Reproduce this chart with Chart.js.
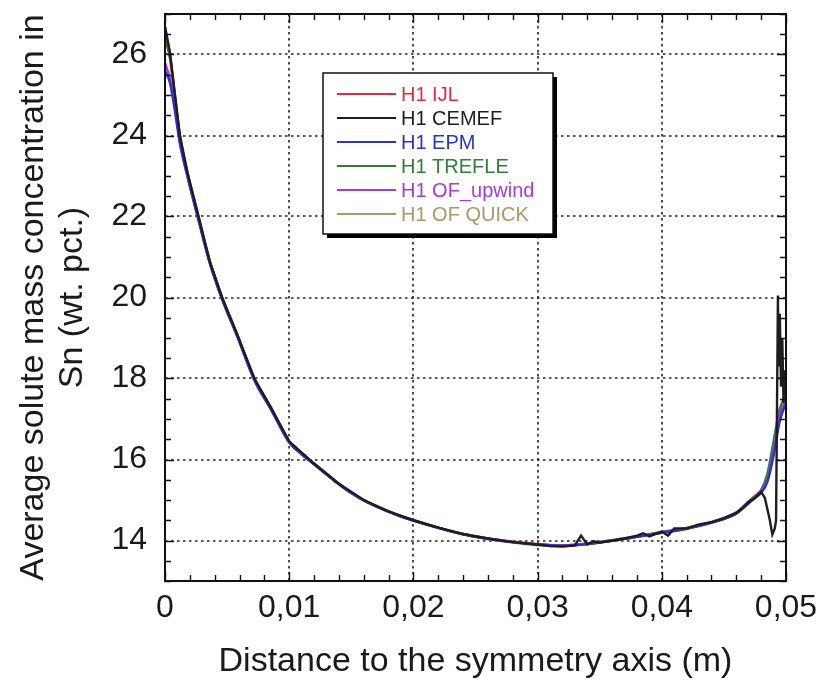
<!DOCTYPE html>
<html>
<head>
<meta charset="utf-8">
<script src="https://cdn.jsdelivr.net/npm/chart.js@4.4.1/dist/chart.umd.min.js"></script>
<style>
  html, body { margin: 0; padding: 0; background: #fff; }
  canvas { display: block; }
</style>
</head>
<body>
<canvas id="c" width="825" height="684"></canvas>
<script>
// ---------------- DATA ----------------
const seriesNames = ['H1 IJL', 'H1 CEMEF', 'H1 EPM', 'H1 TREFLE', 'H1 OF_upwind', 'H1 OF QUICK'];

const xCommon = [0, 0.0004, 0.0008, 0.0012, 0.0018, 0.0027, 0.0036, 0.0046, 0.0058, 0.0072, 0.0085,
  0.010, 0.011, 0.012, 0.013, 0.014, 0.015, 0.016, 0.017, 0.018, 0.019, 0.020, 0.022, 0.024, 0.026,
  0.028, 0.030, 0.032, 0.034, 0.036, 0.038, 0.040, 0.042, 0.044, 0.046, 0.047, 0.0475, 0.048, 0.0485,
  0.049, 0.0495, 0.050];

const yIJL = [26.6, 26.0, 25.0, 24.0, 23.1, 22.0, 20.9, 20.0, 19.1, 18.0, 17.3,
  16.45, 16.15, 15.9, 15.65, 15.4, 15.18, 15.0, 14.85, 14.72, 14.6, 14.5, 14.32, 14.16, 14.05,
  13.97, 13.91, 13.88, 13.92, 14.0, 14.1, 14.2, 14.3, 14.45, 14.68, 14.95, 15.08, 15.2, 15.5,
  16.15, 17.05, 17.5];

const yEPM = [25.6, 25.3, 24.6, 23.8, 23.0, 21.9, 20.85, 19.95, 19.05, 17.95, 17.25,
  16.42, 16.13, 15.88, 15.63, 15.39, 15.17, 14.99, 14.84, 14.71, 14.59, 14.49, 14.31, 14.15, 14.04,
  13.96, 13.9, 13.87, 13.91, 13.99, 14.09, 14.19, 14.29, 14.44, 14.66, 14.92, 15.05, 15.18, 15.45,
  16.1, 16.95, 17.4];

const yTREFLE = [26.4, 25.9, 24.9, 23.95, 23.05, 21.95, 20.9, 19.98, 19.08, 17.98, 17.28,
  16.44, 16.14, 15.89, 15.64, 15.4, 15.18, 15.0, 14.85, 14.72, 14.6, 14.5, 14.32, 14.16, 14.05,
  13.97, 13.91, 13.88, 13.93, 14.01, 14.1, 14.21, 14.31, 14.46, 14.7, 14.97, 15.1, 15.25, 15.65,
  16.45, 17.25, 17.6];

const yUpwind = [25.8, 25.4, 24.7, 23.85, 23.0, 21.92, 20.87, 19.97, 19.07, 17.97, 17.27,
  16.43, 16.13, 15.89, 15.64, 15.39, 15.17, 14.99, 14.84, 14.71, 14.59, 14.49, 14.31, 14.15, 14.04,
  13.96, 13.9, 13.87, 13.91, 13.99, 14.09, 14.19, 14.29, 14.44, 14.68, 14.95, 15.07, 15.2, 15.5,
  16.2, 17.05, 17.45];

const yQuick = [26.5, 25.95, 24.95, 23.97, 23.08, 21.98, 20.9, 19.99, 19.09, 17.99, 17.29,
  16.44, 16.14, 15.89, 15.64, 15.39, 15.17, 14.99, 14.84, 14.71, 14.59, 14.49, 14.31, 14.15, 14.03,
  13.95, 13.88, 13.86, 13.91, 13.99, 14.09, 14.2, 14.3, 14.45, 14.67, 14.94, 15.07, 15.2, 15.48,
  16.15, 17.0, 17.45];

const xCEMEF = [0, 0.0004, 0.0008, 0.0012, 0.0018, 0.0027, 0.0036, 0.0046, 0.0058, 0.0072, 0.0085,
  0.010, 0.012, 0.014, 0.016, 0.018, 0.020, 0.022, 0.024, 0.026, 0.028, 0.030, 0.031, 0.032, 0.033,
  0.0335, 0.034, 0.0345, 0.035, 0.036, 0.037, 0.038, 0.0385, 0.039, 0.040, 0.0405, 0.041, 0.042,
  0.043, 0.044, 0.045, 0.046, 0.0465, 0.047, 0.0475, 0.048, 0.0483, 0.0487, 0.0489, 0.0491, 0.0492,
  0.04935, 0.0494, 0.0495, 0.0496, 0.0497, 0.0498, 0.0499, 0.050];

const yCEMEF = [26.7, 26.05, 25.0, 24.0, 23.1, 22.0, 20.9, 20.0, 19.1, 18.0, 17.3,
  16.45, 15.9, 15.4, 15.0, 14.72, 14.5, 14.32, 14.16, 14.05, 13.96, 13.9, 13.86, 13.85, 13.88,
  14.12, 13.9, 13.98, 13.95, 14.0, 14.05, 14.12, 14.18, 14.1, 14.22, 14.12, 14.3,
  14.3, 14.4, 14.45, 14.55, 14.68, 14.8, 14.95, 15.05, 15.2, 15.05, 14.5, 14.15, 14.3, 14.5,
  20.05, 18.3, 19.6, 17.8, 19.0, 17.4, 18.2, 17.6];

const xTicks = [0, 0.01, 0.02, 0.03, 0.04, 0.05];
const xTickLabels = ['0', '0,01', '0,02', '0,03', '0,04', '0,05'];
const yTicks = [14, 16, 18, 20, 22, 24, 26];
const yTickLabels = ['14', '16', '18', '20', '22', '24', '26'];
const xTitle = 'Distance to the symmetry axis (m)';
const yTitle = ['Average solute mass concentration in', 'Sn (wt. pct.)'];

// ---------------- STYLE ----------------
const colors = ['#e8283e', '#1e1e1e', '#2a34cc', '#2f7f34', '#a23ae6', '#a8986a'];
const FONT = "'Liberation Sans', Arial, sans-serif";

function pts(xs, ys) { return xs.map((v, i) => ({ x: v, y: ys[i] })); }

const datasets = [
  { label: seriesNames[0], data: pts(xCommon, yIJL) },
  { label: seriesNames[1], data: pts(xCEMEF, yCEMEF), tension: 0, cubicInterpolationMode: 'default' },
  { label: seriesNames[2], data: pts(xCommon, yEPM) },
  { label: seriesNames[3], data: pts(xCommon, yTREFLE) },
  { label: seriesNames[4], data: pts(xCommon, yUpwind) },
  { label: seriesNames[5], data: pts(xCommon, yQuick) }
].map((d, i) => Object.assign({
  borderColor: colors[i], backgroundColor: colors[i], borderWidth: 2.4,
  pointRadius: 0, fill: false, cubicInterpolationMode: 'monotone'
}, d));

datasets[1].order = 0; datasets[0].order = 2; datasets[2].order = 1; datasets[3].order = 3; datasets[4].order = 1; datasets[5].order = 4;

const decor = {
  id: 'decor',
  beforeDatasetsDraw(chart) {
    const { ctx, chartArea: a, scales: { x, y } } = chart;
    ctx.save();
    ctx.strokeStyle = '#222';
    ctx.lineWidth = 1.6;
    ctx.setLineDash([2.5, 3.5]);
    xTicks.forEach(v => {
      if (v <= x.min || v >= x.max) return;
      const p = Math.round(x.getPixelForValue(v));
      ctx.beginPath(); ctx.moveTo(p, a.top); ctx.lineTo(p, a.bottom); ctx.stroke();
    });
    yTicks.forEach(v => {
      if (v <= y.min || v >= y.max) return;
      const p = Math.round(y.getPixelForValue(v));
      ctx.beginPath(); ctx.moveTo(a.left, p); ctx.lineTo(a.right, p); ctx.stroke();
    });
    ctx.restore();
  },
  afterDatasetsDraw(chart) {
    const { ctx, chartArea: a, scales: { x, y } } = chart;
    ctx.save();
    ctx.strokeStyle = '#111';
    ctx.lineWidth = 2;
    ctx.strokeRect(a.left, a.top, a.right - a.left, a.bottom - a.top);
    ctx.lineWidth = 1.4;
    const major = 9, minor = 6;
    for (let k = 0; k <= 25; k++) {
      const v = x.min + k * 0.002;
      const p = Math.round(x.getPixelForValue(v)) + 0.5;
      const len = (k % 5 === 0) ? major : minor;
      ctx.beginPath();
      ctx.moveTo(p, a.bottom); ctx.lineTo(p, a.bottom - len);
      ctx.moveTo(p, a.top); ctx.lineTo(p, a.top + len);
      ctx.stroke();
    }
    for (let k = 0; k <= 28; k++) {
      const v = y.min + k * 0.5;
      const p = Math.round(y.getPixelForValue(v)) + 0.5;
      const len = (v % 2 === 0) ? major : minor;
      ctx.beginPath();
      ctx.moveTo(a.left, p); ctx.lineTo(a.left + len, p);
      ctx.moveTo(a.right, p); ctx.lineTo(a.right - len, p);
      ctx.stroke();
    }
    const L = 323, T = 73, W = 230, H = 161;
    ctx.fillStyle = '#000';
    ctx.fillRect(L + 4, T + 4, W, H);
    ctx.fillStyle = '#fff';
    ctx.fillRect(L, T, W, H);
    ctx.lineWidth = 1.5;
    ctx.strokeStyle = '#111';
    ctx.strokeRect(L, T, W, H);
    ctx.font = '20px ' + FONT;
    ctx.textBaseline = 'middle';
    ctx.textAlign = 'left';
    seriesNames.forEach((n, i) => {
      const yy = 94 + i * 24;
      ctx.strokeStyle = colors[i];
      ctx.lineWidth = 2;
      ctx.beginPath(); ctx.moveTo(337, yy); ctx.lineTo(396, yy); ctx.stroke();
      ctx.fillStyle = colors[i];
      ctx.fillText(n, 401, yy + 1);
    });
    ctx.restore();
  },
  afterDraw(chart) {
    const { ctx, chartArea: a } = chart;
    ctx.save();
    ctx.fillStyle = '#1a1a1a';
    ctx.font = '34px ' + FONT;
    ctx.textAlign = 'center';
    ctx.textBaseline = 'alphabetic';
    ctx.fillText(xTitle, (a.left + a.right) / 2, 671);
    const cy = (a.top + a.bottom) / 2;
    const baseX = [43, 82];
    yTitle.forEach((t, i) => {
      ctx.save();
      ctx.translate(baseX[i], cy);
      ctx.rotate(-Math.PI / 2);
      ctx.fillText(t, 0, 0);
      ctx.restore();
    });
    ctx.restore();
  }
};

new Chart(document.getElementById('c'), {
  type: 'line',
  data: { datasets },
  options: {
    responsive: false,
    animation: false,
    events: [],
    layout: { padding: { top: 14, right: 39, left: 0, bottom: 0 } },
    plugins: { legend: { display: false }, tooltip: { enabled: false } },
    scales: {
      x: {
        type: 'linear', min: 0, max: 0.05,
        afterBuildTicks: s => { s.ticks = xTicks.map(v => ({ value: v })); },
        afterFit: s => { s.height = 103; s.paddingLeft = 0; s.paddingRight = 0; },
        grid: { display: false, drawTicks: false },
        border: { display: false },
        ticks: {
          autoSkip: false, maxRotation: 0, padding: 8, color: '#1a1a1a',
          font: { family: FONT, size: 32 },
          callback: (v, i) => xTickLabels[i]
        }
      },
      y: {
        type: 'linear', min: 13, max: 27,
        afterBuildTicks: s => { s.ticks = yTicks.map(v => ({ value: v })); },
        afterFit: s => { s.width = 165; s.paddingTop = 0; s.paddingBottom = 0; },
        grid: { display: false, drawTicks: false },
        border: { display: false },
        ticks: {
          autoSkip: false, padding: 18, color: '#1a1a1a',
          font: { family: FONT, size: 32 },
          callback: (v, i) => yTickLabels[i]
        }
      }
    }
  },
  plugins: [decor]
});
</script>
</body>
</html>
